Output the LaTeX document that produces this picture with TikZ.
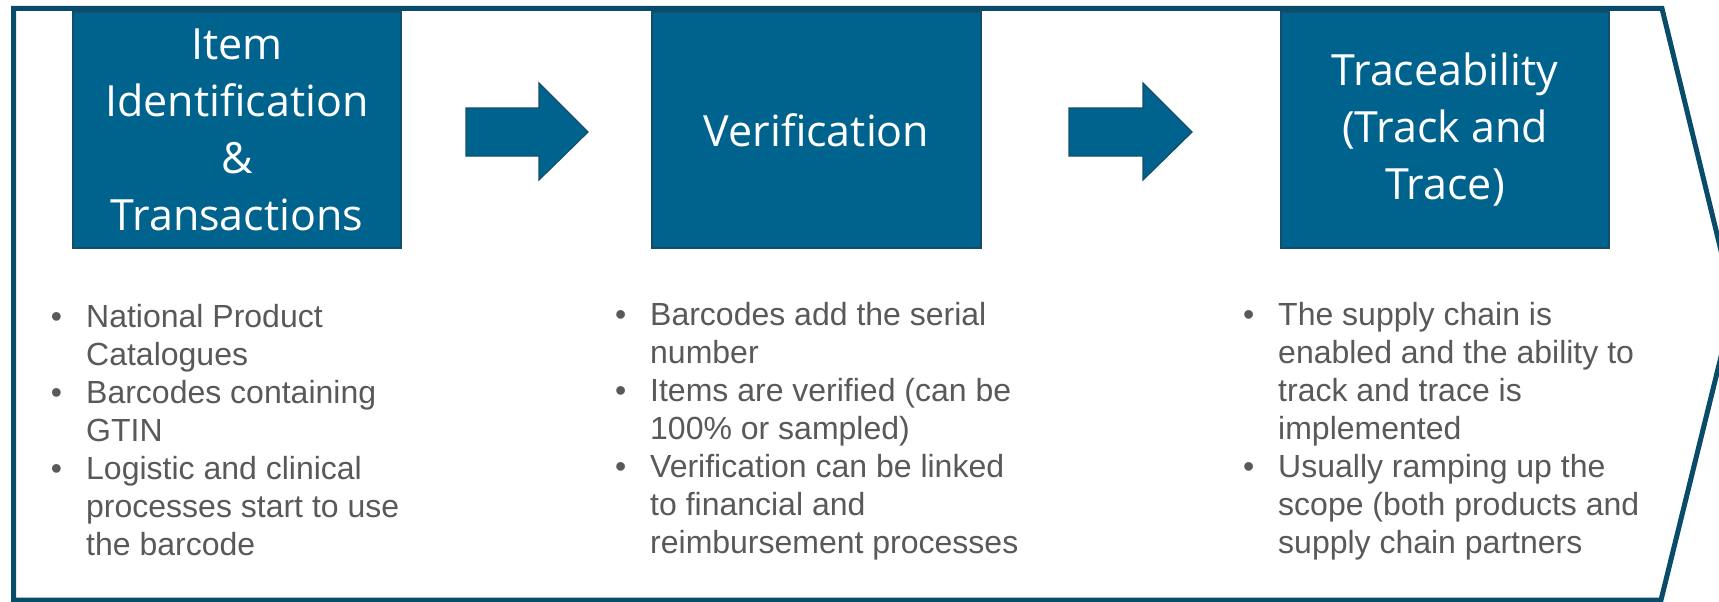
\documentclass[tikz,border=0pt]{standalone}
\usepackage{fontspec}
\setmainfont{Liberation Sans}
\newfontfamily\titlefont{Open Sans}
\definecolor{boxfill}{RGB}{0,99,141}
\definecolor{boxline}{RGB}{18,78,108}
\definecolor{outerline}{RGB}{9,76,106}
\definecolor{bodytext}{RGB}{89,89,89}
\newcommand\bul{\llap{\textbullet\hspace{24pt}}}
\tikzset{
  stagebox/.style={draw=boxline, line width=1.5pt, fill=boxfill, text=white,
    minimum width=328pt, minimum height=236pt, inner sep=0pt, align=center,
    font=\titlefont\fontsize{43}{57}\selectfont},
  flowarrow/.style={draw=boxline, line width=1.2pt, fill=boxfill, line join=miter},
  outerframe/.style={draw=outerline, line width=5pt, line join=miter},
  bullets/.style={anchor=base west, inner sep=0pt, text=bodytext,
    font=\fontsize{32}{38}\selectfont}
}
\begin{document}
\begin{tikzpicture}[x=1pt,y=-1pt]
\useasboundingbox (0,0) rectangle (1719,602);
\fill[white] (0,0) rectangle (1719,602);
% outer chevron frame
\draw[outerframe] (13.5,8.5) -- (1662,8.5) -- (1734,304) -- (1661,600) -- (13.5,600) -- cycle;

% stage boxes
\node[stagebox] (s1) at (237,130) {Item\\Identification\\\&\\Transactions};
\node[stagebox, minimum width=329pt] (s2) at (816.5,130) {Verification};
\node[stagebox] (s3) at (1445,130) {Traceability\\(Track and\\Trace)};

% block arrows
\draw[flowarrow] (466,108) -- (539,108) -- (539,83) -- (588,132) -- (539,180) -- (539,156) -- (466,156) -- cycle;
\draw[flowarrow] (1069,108) -- (1143,108) -- (1143,83) -- (1192,132) -- (1143,180) -- (1143,156) -- (1069,156) -- cycle;

% bullet lists
\node[bullets] (b1) at (86,327) {\vtop{\baselineskip=38pt
  \hbox{\bul National Product}
  \hbox{Catalogues}
  \hbox{\bul Barcodes containing}
  \hbox{GTIN}
  \hbox{\bul Logistic and clinical}
  \hbox{processes start to use}
  \hbox{the barcode}}};
\node[bullets] (b2) at (650,325) {\vtop{\baselineskip=38pt
  \hbox{\bul Barcodes add the serial}
  \hbox{number}
  \hbox{\bul Items are verified (can be}
  \hbox{100\% or sampled)}
  \hbox{\bul Verification can be linked}
  \hbox{to financial and}
  \hbox{reimbursement processes}}};
\node[bullets] (b3) at (1278,325) {\vtop{\baselineskip=38pt
  \hbox{\bul The supply chain is}
  \hbox{enabled and the ability to}
  \hbox{track and trace is}
  \hbox{implemented}
  \hbox{\bul Usually ramping up the}
  \hbox{scope (both products and}
  \hbox{supply chain partners}}};
\end{tikzpicture}
\end{document}
